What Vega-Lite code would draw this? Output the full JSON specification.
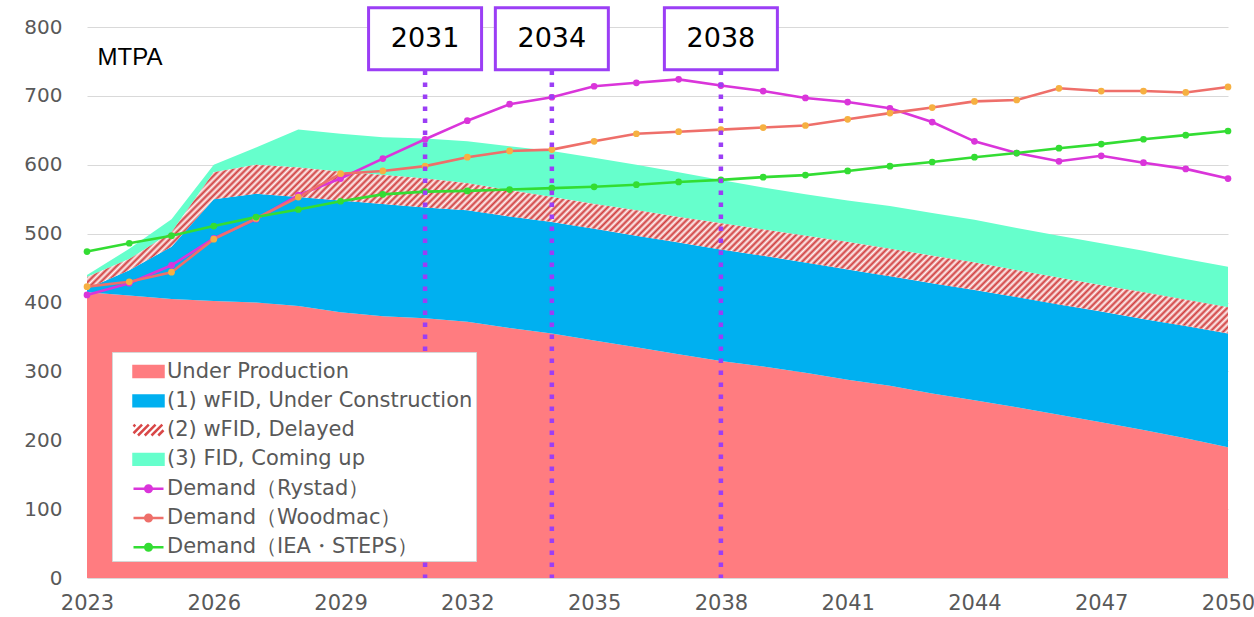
{
  "$schema": "https://vega.github.io/schema/vega-lite/v6.json",
  "width": 1141,
  "height": 551,
  "autosize": {"type": "none"},
  "padding": {"left": 87, "top": 27, "right": 26, "bottom": 39},
  "background": "white",
  "config": {"view": {"stroke": null}, "font": "DejaVu Sans"},
  "datasets": {
    "supply": [
      {"year": 2023, "UP": 415, "UC": 5, "DEL": 17, "FID": 3, "Rystad": 411, "Woodmac": 423, "IEA": 474},
      {"year": 2024, "UP": 410, "UC": 37, "DEL": 16, "FID": 15, "Rystad": 428, "Woodmac": 430, "IEA": 486},
      {"year": 2025, "UP": 405, "UC": 76, "DEL": 21, "FID": 19, "Rystad": 454, "Woodmac": 444, "IEA": 497},
      {"year": 2026, "UP": 402, "UC": 148, "DEL": 39, "FID": 11, "Rystad": 493, "Woodmac": 492, "IEA": 511},
      {"year": 2027, "UP": 400, "UC": 158, "DEL": 42, "FID": 25, "Rystad": 521, "Woodmac": 522, "IEA": 524},
      {"year": 2028, "UP": 395, "UC": 158, "DEL": 43, "FID": 55, "Rystad": 556, "Woodmac": 553, "IEA": 535},
      {"year": 2029, "UP": 386, "UC": 162, "DEL": 42, "FID": 55, "Rystad": 580, "Woodmac": 587, "IEA": 547},
      {"year": 2030, "UP": 380, "UC": 163, "DEL": 42, "FID": 55, "Rystad": 609, "Woodmac": 591, "IEA": 557},
      {"year": 2031, "UP": 377, "UC": 161, "DEL": 42, "FID": 58, "Rystad": 637, "Woodmac": 598, "IEA": 561},
      {"year": 2032, "UP": 372, "UC": 162, "DEL": 39, "FID": 61, "Rystad": 664, "Woodmac": 611, "IEA": 562},
      {"year": 2033, "UP": 363, "UC": 162, "DEL": 38, "FID": 64, "Rystad": 688, "Woodmac": 620, "IEA": 564},
      {"year": 2034, "UP": 355, "UC": 162, "DEL": 36, "FID": 67, "Rystad": 698, "Woodmac": 622, "IEA": 566},
      {"year": 2035, "UP": 345, "UC": 162, "DEL": 36, "FID": 67, "Rystad": 714, "Woodmac": 634, "IEA": 568},
      {"year": 2036, "UP": 335, "UC": 162, "DEL": 37, "FID": 66, "Rystad": 719, "Woodmac": 645, "IEA": 571},
      {"year": 2037, "UP": 325, "UC": 162, "DEL": 37, "FID": 65, "Rystad": 724, "Woodmac": 648, "IEA": 575},
      {"year": 2038, "UP": 315, "UC": 162, "DEL": 38, "FID": 63, "Rystad": 715, "Woodmac": 651, "IEA": 578},
      {"year": 2039, "UP": 307, "UC": 161, "DEL": 38, "FID": 61, "Rystad": 707, "Woodmac": 654, "IEA": 582},
      {"year": 2040, "UP": 298, "UC": 160, "DEL": 39, "FID": 60, "Rystad": 697, "Woodmac": 657, "IEA": 585},
      {"year": 2041, "UP": 288, "UC": 160, "DEL": 40, "FID": 60, "Rystad": 691, "Woodmac": 666, "IEA": 591},
      {"year": 2042, "UP": 279, "UC": 159, "DEL": 40, "FID": 62, "Rystad": 682, "Woodmac": 675, "IEA": 598},
      {"year": 2043, "UP": 268, "UC": 160, "DEL": 40, "FID": 62, "Rystad": 662, "Woodmac": 683, "IEA": 604},
      {"year": 2044, "UP": 258, "UC": 160, "DEL": 40, "FID": 62, "Rystad": 634, "Woodmac": 692, "IEA": 611},
      {"year": 2045, "UP": 248, "UC": 160, "DEL": 39, "FID": 61, "Rystad": 617, "Woodmac": 694, "IEA": 617},
      {"year": 2046, "UP": 237, "UC": 160, "DEL": 39, "FID": 61, "Rystad": 605, "Woodmac": 711, "IEA": 624},
      {"year": 2047, "UP": 226, "UC": 161, "DEL": 38, "FID": 61, "Rystad": 613, "Woodmac": 707, "IEA": 630},
      {"year": 2048, "UP": 215, "UC": 161, "DEL": 39, "FID": 60, "Rystad": 603, "Woodmac": 707, "IEA": 637},
      {"year": 2049, "UP": 203, "UC": 163, "DEL": 38, "FID": 59, "Rystad": 594, "Woodmac": 705, "IEA": 643},
      {"year": 2050, "UP": 190, "UC": 165, "DEL": 38, "FID": 59, "Rystad": 580, "Woodmac": 713, "IEA": 649}
    ],
    "marks": [{"year": 2031}, {"year": 2034}, {"year": 2038}]
  },
  "encoding": {
    "x": {
      "field": "year",
      "type": "quantitative",
      "scale": {"domain": [2023, 2050], "nice": false, "zero": false},
      "axis": {
        "values": [2023, 2026, 2029, 2032, 2035, 2038, 2041, 2044, 2047, 2050],
        "format": "d",
        "labelFlush": false,
        "labelOverlap": false,
        "grid": false,
        "domain": false,
        "ticks": false,
        "tickSize": 0,
        "labelPadding": 14,
        "labelFontSize": 21,
        "labelColor": "#595959",
        "labelFont": "DejaVu Sans",
        "title": null
      }
    }
  },
  "layer": [
    {
      "data": {"name": "supply"},
      "transform": [
        {"fold": ["UP", "UC", "DEL", "FID"], "as": ["series", "value"]},
        {"stack": "value", "groupby": ["year"], "as": ["v0", "v1"]},
        {"filter": "datum.series !== 'DEL'"}
      ],
      "mark": {"type": "area", "interpolate": "linear", "opacity": 1},
      "encoding": {
        "y": {
          "field": "v1",
          "type": "quantitative",
          "stack": null,
          "scale": {"domain": [0, 800], "nice": false, "zero": true},
          "axis": {
            "values": [0, 100, 200, 300, 400, 500, 600, 700, 800],
            "grid": true,
            "gridColor": "#D9D9D9",
            "gridWidth": 1.2,
            "domain": false,
            "ticks": false,
            "tickSize": 0,
            "labelPadding": 25,
            "labelFontSize": 20,
            "labelColor": "#595959",
            "labelFont": "DejaVu Sans",
            "title": "MTPA",
            "titleAngle": 0,
            "titleX": 10,
            "titleY": 30,
            "titleAlign": "left",
            "titleBaseline": "middle",
            "titleFont": "Liberation Sans",
            "titleFontSize": 24,
            "titleFontWeight": "normal",
            "titleColor": "#000000"
          }
        },
        "y2": {"field": "v0"},
        "color": {
          "field": "series",
          "type": "nominal",
          "scale": {
            "domain": ["UP", "UC", "DEL", "FID", "Rystad", "Woodmac", "IEA"],
            "range": ["#FF7C80", "#00B0F0", "#D94848", "#66FFCC", "#DA35DA", "#EE6F6A", "#33DD33"]
          },
          "legend": {
            "orient": "none", "legendX": 25, "legendY": 325, "title": null, "direction": "vertical",
            "fillColor": "white", "strokeColor": "#D6D6D6", "padding": 3,
            "labelFont": "DejaVu Sans", "labelFontSize": 21, "labelColor": "#595959", "labelLimit": 400,
            "labelExpr": "({'UP':'Under Production','UC':'(1) wFID, Under Construction','DEL':'(2) wFID, Delayed','FID':'(3) FID, Coming up','Rystad':'Demand（Rystad）','Woodmac':'Demand（Woodmac）','IEA':'Demand（IEA・STEPS）'})[datum.value]",
            "symbolType": "M-1,-0.36H1V0.36H-1Z",
            "symbolSize": 400, "symbolStrokeWidth": 0, "symbolOffset": 17, "labelOffset": 2, "rowPadding": 2.3, "zindex": 2,
            "encode": {
              "symbols": {
                "update": {
                  "shape": {"signal": "indexof(['Rystad','Woodmac','IEA'], datum.value) >= 0 ? 'M-1,0H1M0.22,0A0.22 0.22 0 1 1 -0.22,0A0.22 0.22 0 1 1 0.22,0' : datum.value === 'DEL' ? 'M-1,-0.24L-0.88,-0.36M-1,0.21L-0.43,-0.36M-0.7,0.36L0.02,-0.36M-0.25,0.36L0.47,-0.36M0.2,0.36L0.92,-0.36M0.65,0.36L1,0.01' : 'M-1,-0.36H1V0.36H-1Z'"},
                  "size": {"value": 900},
                  "fill": {"signal": "datum.value === 'Woodmac' ? '#F6B041' : datum.value === 'DEL' ? 'transparent' : scale('color', datum.value)"},
                  "stroke": {"signal": "indexof(['Rystad','Woodmac','IEA','DEL'], datum.value) >= 0 ? scale('color', datum.value) : 'transparent'"},
                  "strokeWidth": {"value": 2.5},
                  "opacity": {"value": 1}
                }
              }
            }
          }
        }
      }
    },
    {
      "data": {"name": "supply"},
      "transform": [
        {"fold": ["UP", "UC", "DEL", "FID"], "as": ["series", "value"]},
        {"stack": "value", "groupby": ["year"], "as": ["v0", "v1"]},
        {"filter": "datum.series === 'DEL'"}
      ],
      "mark": {
        "type": "area",
        "interpolate": "linear",
        "opacity": 1,
        "fill": {
          "gradient": "linear", "x1": 0, "y1": 0, "x2": 1.1233, "y2": 0.1661,
          "stops": [
            {"offset":0,"color":"#d03c3c"},{"offset":0.0025,"color":"#fff5f5"},{"offset":0.005,"color":"#d03c3c"},{"offset":0.0075,"color":"#fff5f5"},
            {"offset":0.01,"color":"#d03c3c"},{"offset":0.0125,"color":"#fff5f5"},{"offset":0.015,"color":"#d03c3c"},{"offset":0.0175,"color":"#fff5f5"},
            {"offset":0.02,"color":"#d03c3c"},{"offset":0.0225,"color":"#fff5f5"},{"offset":0.025,"color":"#d03c3c"},{"offset":0.0275,"color":"#fff5f5"},
            {"offset":0.03,"color":"#d03c3c"},{"offset":0.0325,"color":"#fff5f5"},{"offset":0.035,"color":"#d03c3c"},{"offset":0.0375,"color":"#fff5f5"},
            {"offset":0.04,"color":"#d03c3c"},{"offset":0.0425,"color":"#fff5f5"},{"offset":0.045,"color":"#d03c3c"},{"offset":0.0475,"color":"#fff5f5"},
            {"offset":0.05,"color":"#d03c3c"},{"offset":0.0525,"color":"#fff5f5"},{"offset":0.055,"color":"#d03c3c"},{"offset":0.0575,"color":"#fff5f5"},
            {"offset":0.06,"color":"#d03c3c"},{"offset":0.0625,"color":"#fff5f5"},{"offset":0.065,"color":"#d03c3c"},{"offset":0.0675,"color":"#fff5f5"},
            {"offset":0.07,"color":"#d03c3c"},{"offset":0.0725,"color":"#fff5f5"},{"offset":0.075,"color":"#d03c3c"},{"offset":0.0775,"color":"#fff5f5"},
            {"offset":0.08,"color":"#d03c3c"},{"offset":0.0825,"color":"#fff5f5"},{"offset":0.085,"color":"#d03c3c"},{"offset":0.0875,"color":"#fff5f5"},
            {"offset":0.09,"color":"#d03c3c"},{"offset":0.0925,"color":"#fff5f5"},{"offset":0.095,"color":"#d03c3c"},{"offset":0.0975,"color":"#fff5f5"},
            {"offset":0.1,"color":"#d03c3c"},{"offset":0.1025,"color":"#fff5f5"},{"offset":0.105,"color":"#d03c3c"},{"offset":0.1075,"color":"#fff5f5"},
            {"offset":0.11,"color":"#d03c3c"},{"offset":0.1125,"color":"#fff5f5"},{"offset":0.115,"color":"#d03c3c"},{"offset":0.1175,"color":"#fff5f5"},
            {"offset":0.12,"color":"#d03c3c"},{"offset":0.1225,"color":"#fff5f5"},{"offset":0.125,"color":"#d03c3c"},{"offset":0.1275,"color":"#fff5f5"},
            {"offset":0.13,"color":"#d03c3c"},{"offset":0.1325,"color":"#fff5f5"},{"offset":0.135,"color":"#d03c3c"},{"offset":0.1375,"color":"#fff5f5"},
            {"offset":0.14,"color":"#d03c3c"},{"offset":0.1425,"color":"#fff5f5"},{"offset":0.145,"color":"#d03c3c"},{"offset":0.1475,"color":"#fff5f5"},
            {"offset":0.15,"color":"#d03c3c"},{"offset":0.1525,"color":"#fff5f5"},{"offset":0.155,"color":"#d03c3c"},{"offset":0.1575,"color":"#fff5f5"},
            {"offset":0.16,"color":"#d03c3c"},{"offset":0.1625,"color":"#fff5f5"},{"offset":0.165,"color":"#d03c3c"},{"offset":0.1675,"color":"#fff5f5"},
            {"offset":0.17,"color":"#d03c3c"},{"offset":0.1725,"color":"#fff5f5"},{"offset":0.175,"color":"#d03c3c"},{"offset":0.1775,"color":"#fff5f5"},
            {"offset":0.18,"color":"#d03c3c"},{"offset":0.1825,"color":"#fff5f5"},{"offset":0.185,"color":"#d03c3c"},{"offset":0.1875,"color":"#fff5f5"},
            {"offset":0.19,"color":"#d03c3c"},{"offset":0.1925,"color":"#fff5f5"},{"offset":0.195,"color":"#d03c3c"},{"offset":0.1975,"color":"#fff5f5"},
            {"offset":0.2,"color":"#d03c3c"},{"offset":0.2025,"color":"#fff5f5"},{"offset":0.205,"color":"#d03c3c"},{"offset":0.2075,"color":"#fff5f5"},
            {"offset":0.21,"color":"#d03c3c"},{"offset":0.2125,"color":"#fff5f5"},{"offset":0.215,"color":"#d03c3c"},{"offset":0.2175,"color":"#fff5f5"},
            {"offset":0.22,"color":"#d03c3c"},{"offset":0.2225,"color":"#fff5f5"},{"offset":0.225,"color":"#d03c3c"},{"offset":0.2275,"color":"#fff5f5"},
            {"offset":0.23,"color":"#d03c3c"},{"offset":0.2325,"color":"#fff5f5"},{"offset":0.235,"color":"#d03c3c"},{"offset":0.2375,"color":"#fff5f5"},
            {"offset":0.24,"color":"#d03c3c"},{"offset":0.2425,"color":"#fff5f5"},{"offset":0.245,"color":"#d03c3c"},{"offset":0.2475,"color":"#fff5f5"},
            {"offset":0.25,"color":"#d03c3c"},{"offset":0.2525,"color":"#fff5f5"},{"offset":0.255,"color":"#d03c3c"},{"offset":0.2575,"color":"#fff5f5"},
            {"offset":0.26,"color":"#d03c3c"},{"offset":0.2625,"color":"#fff5f5"},{"offset":0.265,"color":"#d03c3c"},{"offset":0.2675,"color":"#fff5f5"},
            {"offset":0.27,"color":"#d03c3c"},{"offset":0.2725,"color":"#fff5f5"},{"offset":0.275,"color":"#d03c3c"},{"offset":0.2775,"color":"#fff5f5"},
            {"offset":0.28,"color":"#d03c3c"},{"offset":0.2825,"color":"#fff5f5"},{"offset":0.285,"color":"#d03c3c"},{"offset":0.2875,"color":"#fff5f5"},
            {"offset":0.29,"color":"#d03c3c"},{"offset":0.2925,"color":"#fff5f5"},{"offset":0.295,"color":"#d03c3c"},{"offset":0.2975,"color":"#fff5f5"},
            {"offset":0.3,"color":"#d03c3c"},{"offset":0.3025,"color":"#fff5f5"},{"offset":0.305,"color":"#d03c3c"},{"offset":0.3075,"color":"#fff5f5"},
            {"offset":0.31,"color":"#d03c3c"},{"offset":0.3125,"color":"#fff5f5"},{"offset":0.315,"color":"#d03c3c"},{"offset":0.3175,"color":"#fff5f5"},
            {"offset":0.32,"color":"#d03c3c"},{"offset":0.3225,"color":"#fff5f5"},{"offset":0.325,"color":"#d03c3c"},{"offset":0.3275,"color":"#fff5f5"},
            {"offset":0.33,"color":"#d03c3c"},{"offset":0.3325,"color":"#fff5f5"},{"offset":0.335,"color":"#d03c3c"},{"offset":0.3375,"color":"#fff5f5"},
            {"offset":0.34,"color":"#d03c3c"},{"offset":0.3425,"color":"#fff5f5"},{"offset":0.345,"color":"#d03c3c"},{"offset":0.3475,"color":"#fff5f5"},
            {"offset":0.35,"color":"#d03c3c"},{"offset":0.3525,"color":"#fff5f5"},{"offset":0.355,"color":"#d03c3c"},{"offset":0.3575,"color":"#fff5f5"},
            {"offset":0.36,"color":"#d03c3c"},{"offset":0.3625,"color":"#fff5f5"},{"offset":0.365,"color":"#d03c3c"},{"offset":0.3675,"color":"#fff5f5"},
            {"offset":0.37,"color":"#d03c3c"},{"offset":0.3725,"color":"#fff5f5"},{"offset":0.375,"color":"#d03c3c"},{"offset":0.3775,"color":"#fff5f5"},
            {"offset":0.38,"color":"#d03c3c"},{"offset":0.3825,"color":"#fff5f5"},{"offset":0.385,"color":"#d03c3c"},{"offset":0.3875,"color":"#fff5f5"},
            {"offset":0.39,"color":"#d03c3c"},{"offset":0.3925,"color":"#fff5f5"},{"offset":0.395,"color":"#d03c3c"},{"offset":0.3975,"color":"#fff5f5"},
            {"offset":0.4,"color":"#d03c3c"},{"offset":0.4025,"color":"#fff5f5"},{"offset":0.405,"color":"#d03c3c"},{"offset":0.4075,"color":"#fff5f5"},
            {"offset":0.41,"color":"#d03c3c"},{"offset":0.4125,"color":"#fff5f5"},{"offset":0.415,"color":"#d03c3c"},{"offset":0.4175,"color":"#fff5f5"},
            {"offset":0.42,"color":"#d03c3c"},{"offset":0.4225,"color":"#fff5f5"},{"offset":0.425,"color":"#d03c3c"},{"offset":0.4275,"color":"#fff5f5"},
            {"offset":0.43,"color":"#d03c3c"},{"offset":0.4325,"color":"#fff5f5"},{"offset":0.435,"color":"#d03c3c"},{"offset":0.4375,"color":"#fff5f5"},
            {"offset":0.44,"color":"#d03c3c"},{"offset":0.4425,"color":"#fff5f5"},{"offset":0.445,"color":"#d03c3c"},{"offset":0.4475,"color":"#fff5f5"},
            {"offset":0.45,"color":"#d03c3c"},{"offset":0.4525,"color":"#fff5f5"},{"offset":0.455,"color":"#d03c3c"},{"offset":0.4575,"color":"#fff5f5"},
            {"offset":0.46,"color":"#d03c3c"},{"offset":0.4625,"color":"#fff5f5"},{"offset":0.465,"color":"#d03c3c"},{"offset":0.4675,"color":"#fff5f5"},
            {"offset":0.47,"color":"#d03c3c"},{"offset":0.4725,"color":"#fff5f5"},{"offset":0.475,"color":"#d03c3c"},{"offset":0.4775,"color":"#fff5f5"},
            {"offset":0.48,"color":"#d03c3c"},{"offset":0.4825,"color":"#fff5f5"},{"offset":0.485,"color":"#d03c3c"},{"offset":0.4875,"color":"#fff5f5"},
            {"offset":0.49,"color":"#d03c3c"},{"offset":0.4925,"color":"#fff5f5"},{"offset":0.495,"color":"#d03c3c"},{"offset":0.4975,"color":"#fff5f5"},
            {"offset":0.5,"color":"#d03c3c"},{"offset":0.5025,"color":"#fff5f5"},{"offset":0.505,"color":"#d03c3c"},{"offset":0.5075,"color":"#fff5f5"},
            {"offset":0.51,"color":"#d03c3c"},{"offset":0.5125,"color":"#fff5f5"},{"offset":0.515,"color":"#d03c3c"},{"offset":0.5175,"color":"#fff5f5"},
            {"offset":0.52,"color":"#d03c3c"},{"offset":0.5225,"color":"#fff5f5"},{"offset":0.525,"color":"#d03c3c"},{"offset":0.5275,"color":"#fff5f5"},
            {"offset":0.53,"color":"#d03c3c"},{"offset":0.5325,"color":"#fff5f5"},{"offset":0.535,"color":"#d03c3c"},{"offset":0.5375,"color":"#fff5f5"},
            {"offset":0.54,"color":"#d03c3c"},{"offset":0.5425,"color":"#fff5f5"},{"offset":0.545,"color":"#d03c3c"},{"offset":0.5475,"color":"#fff5f5"},
            {"offset":0.55,"color":"#d03c3c"},{"offset":0.5525,"color":"#fff5f5"},{"offset":0.555,"color":"#d03c3c"},{"offset":0.5575,"color":"#fff5f5"},
            {"offset":0.56,"color":"#d03c3c"},{"offset":0.5625,"color":"#fff5f5"},{"offset":0.565,"color":"#d03c3c"},{"offset":0.5675,"color":"#fff5f5"},
            {"offset":0.57,"color":"#d03c3c"},{"offset":0.5725,"color":"#fff5f5"},{"offset":0.575,"color":"#d03c3c"},{"offset":0.5775,"color":"#fff5f5"},
            {"offset":0.58,"color":"#d03c3c"},{"offset":0.5825,"color":"#fff5f5"},{"offset":0.585,"color":"#d03c3c"},{"offset":0.5875,"color":"#fff5f5"},
            {"offset":0.59,"color":"#d03c3c"},{"offset":0.5925,"color":"#fff5f5"},{"offset":0.595,"color":"#d03c3c"},{"offset":0.5975,"color":"#fff5f5"},
            {"offset":0.6,"color":"#d03c3c"},{"offset":0.6025,"color":"#fff5f5"},{"offset":0.605,"color":"#d03c3c"},{"offset":0.6075,"color":"#fff5f5"},
            {"offset":0.61,"color":"#d03c3c"},{"offset":0.6125,"color":"#fff5f5"},{"offset":0.615,"color":"#d03c3c"},{"offset":0.6175,"color":"#fff5f5"},
            {"offset":0.62,"color":"#d03c3c"},{"offset":0.6225,"color":"#fff5f5"},{"offset":0.625,"color":"#d03c3c"},{"offset":0.6275,"color":"#fff5f5"},
            {"offset":0.63,"color":"#d03c3c"},{"offset":0.6325,"color":"#fff5f5"},{"offset":0.635,"color":"#d03c3c"},{"offset":0.6375,"color":"#fff5f5"},
            {"offset":0.64,"color":"#d03c3c"},{"offset":0.6425,"color":"#fff5f5"},{"offset":0.645,"color":"#d03c3c"},{"offset":0.6475,"color":"#fff5f5"},
            {"offset":0.65,"color":"#d03c3c"},{"offset":0.6525,"color":"#fff5f5"},{"offset":0.655,"color":"#d03c3c"},{"offset":0.6575,"color":"#fff5f5"},
            {"offset":0.66,"color":"#d03c3c"},{"offset":0.6625,"color":"#fff5f5"},{"offset":0.665,"color":"#d03c3c"},{"offset":0.6675,"color":"#fff5f5"},
            {"offset":0.67,"color":"#d03c3c"},{"offset":0.6725,"color":"#fff5f5"},{"offset":0.675,"color":"#d03c3c"},{"offset":0.6775,"color":"#fff5f5"},
            {"offset":0.68,"color":"#d03c3c"},{"offset":0.6825,"color":"#fff5f5"},{"offset":0.685,"color":"#d03c3c"},{"offset":0.6875,"color":"#fff5f5"},
            {"offset":0.69,"color":"#d03c3c"},{"offset":0.6925,"color":"#fff5f5"},{"offset":0.695,"color":"#d03c3c"},{"offset":0.6975,"color":"#fff5f5"},
            {"offset":0.7,"color":"#d03c3c"},{"offset":0.7025,"color":"#fff5f5"},{"offset":0.705,"color":"#d03c3c"},{"offset":0.7075,"color":"#fff5f5"},
            {"offset":0.71,"color":"#d03c3c"},{"offset":0.7125,"color":"#fff5f5"},{"offset":0.715,"color":"#d03c3c"},{"offset":0.7175,"color":"#fff5f5"},
            {"offset":0.72,"color":"#d03c3c"},{"offset":0.7225,"color":"#fff5f5"},{"offset":0.725,"color":"#d03c3c"},{"offset":0.7275,"color":"#fff5f5"},
            {"offset":0.73,"color":"#d03c3c"},{"offset":0.7325,"color":"#fff5f5"},{"offset":0.735,"color":"#d03c3c"},{"offset":0.7375,"color":"#fff5f5"},
            {"offset":0.74,"color":"#d03c3c"},{"offset":0.7425,"color":"#fff5f5"},{"offset":0.745,"color":"#d03c3c"},{"offset":0.7475,"color":"#fff5f5"},
            {"offset":0.75,"color":"#d03c3c"},{"offset":0.7525,"color":"#fff5f5"},{"offset":0.755,"color":"#d03c3c"},{"offset":0.7575,"color":"#fff5f5"},
            {"offset":0.76,"color":"#d03c3c"},{"offset":0.7625,"color":"#fff5f5"},{"offset":0.765,"color":"#d03c3c"},{"offset":0.7675,"color":"#fff5f5"},
            {"offset":0.77,"color":"#d03c3c"},{"offset":0.7725,"color":"#fff5f5"},{"offset":0.775,"color":"#d03c3c"},{"offset":0.7775,"color":"#fff5f5"},
            {"offset":0.78,"color":"#d03c3c"},{"offset":0.7825,"color":"#fff5f5"},{"offset":0.785,"color":"#d03c3c"},{"offset":0.7875,"color":"#fff5f5"},
            {"offset":0.79,"color":"#d03c3c"},{"offset":0.7925,"color":"#fff5f5"},{"offset":0.795,"color":"#d03c3c"},{"offset":0.7975,"color":"#fff5f5"},
            {"offset":0.8,"color":"#d03c3c"},{"offset":0.8025,"color":"#fff5f5"},{"offset":0.805,"color":"#d03c3c"},{"offset":0.8075,"color":"#fff5f5"},
            {"offset":0.81,"color":"#d03c3c"},{"offset":0.8125,"color":"#fff5f5"},{"offset":0.815,"color":"#d03c3c"},{"offset":0.8175,"color":"#fff5f5"},
            {"offset":0.82,"color":"#d03c3c"},{"offset":0.8225,"color":"#fff5f5"},{"offset":0.825,"color":"#d03c3c"},{"offset":0.8275,"color":"#fff5f5"},
            {"offset":0.83,"color":"#d03c3c"},{"offset":0.8325,"color":"#fff5f5"},{"offset":0.835,"color":"#d03c3c"},{"offset":0.8375,"color":"#fff5f5"},
            {"offset":0.84,"color":"#d03c3c"},{"offset":0.8425,"color":"#fff5f5"},{"offset":0.845,"color":"#d03c3c"},{"offset":0.8475,"color":"#fff5f5"},
            {"offset":0.85,"color":"#d03c3c"},{"offset":0.8525,"color":"#fff5f5"},{"offset":0.855,"color":"#d03c3c"},{"offset":0.8575,"color":"#fff5f5"},
            {"offset":0.86,"color":"#d03c3c"},{"offset":0.8625,"color":"#fff5f5"},{"offset":0.865,"color":"#d03c3c"},{"offset":0.8675,"color":"#fff5f5"},
            {"offset":0.87,"color":"#d03c3c"},{"offset":0.8725,"color":"#fff5f5"},{"offset":0.875,"color":"#d03c3c"},{"offset":0.8775,"color":"#fff5f5"},
            {"offset":0.88,"color":"#d03c3c"},{"offset":0.8825,"color":"#fff5f5"},{"offset":0.885,"color":"#d03c3c"},{"offset":0.8875,"color":"#fff5f5"},
            {"offset":0.89,"color":"#d03c3c"},{"offset":0.8925,"color":"#fff5f5"},{"offset":0.895,"color":"#d03c3c"},{"offset":0.8975,"color":"#fff5f5"},
            {"offset":0.9,"color":"#d03c3c"},{"offset":0.9025,"color":"#fff5f5"},{"offset":0.905,"color":"#d03c3c"},{"offset":0.9075,"color":"#fff5f5"},
            {"offset":0.91,"color":"#d03c3c"},{"offset":0.9125,"color":"#fff5f5"},{"offset":0.915,"color":"#d03c3c"},{"offset":0.9175,"color":"#fff5f5"},
            {"offset":0.92,"color":"#d03c3c"},{"offset":0.9225,"color":"#fff5f5"},{"offset":0.925,"color":"#d03c3c"},{"offset":0.9275,"color":"#fff5f5"},
            {"offset":0.93,"color":"#d03c3c"},{"offset":0.9325,"color":"#fff5f5"},{"offset":0.935,"color":"#d03c3c"},{"offset":0.9375,"color":"#fff5f5"},
            {"offset":0.94,"color":"#d03c3c"},{"offset":0.9425,"color":"#fff5f5"},{"offset":0.945,"color":"#d03c3c"},{"offset":0.9475,"color":"#fff5f5"},
            {"offset":0.95,"color":"#d03c3c"},{"offset":0.9525,"color":"#fff5f5"},{"offset":0.955,"color":"#d03c3c"},{"offset":0.9575,"color":"#fff5f5"},
            {"offset":0.96,"color":"#d03c3c"},{"offset":0.9625,"color":"#fff5f5"},{"offset":0.965,"color":"#d03c3c"},{"offset":0.9675,"color":"#fff5f5"},
            {"offset":0.97,"color":"#d03c3c"},{"offset":0.9725,"color":"#fff5f5"},{"offset":0.975,"color":"#d03c3c"},{"offset":0.9775,"color":"#fff5f5"},
            {"offset":0.98,"color":"#d03c3c"},{"offset":0.9825,"color":"#fff5f5"},{"offset":0.985,"color":"#d03c3c"},{"offset":0.9875,"color":"#fff5f5"},
            {"offset":0.99,"color":"#d03c3c"},{"offset":0.9925,"color":"#fff5f5"},{"offset":0.995,"color":"#d03c3c"},{"offset":0.9975,"color":"#fff5f5"},
            {"offset":1,"color":"#d03c3c"}
          ]
        }
      },
      "encoding": {
        "y": {"field": "v1", "type": "quantitative", "stack": null, "scale": {"domain": [0, 800], "nice": false, "zero": true}},
        "y2": {"field": "v0"}
      }
    },
    {
      "data": {"name": "supply"},
      "transform": [{"fold": ["Rystad", "Woodmac", "IEA"], "as": ["series", "value"]}],
      "mark": {"type": "line", "strokeWidth": 2.6, "interpolate": "linear"},
      "encoding": {
        "y": {"field": "value", "type": "quantitative", "scale": {"domain": [0, 800], "nice": false, "zero": true}},
        "color": {
          "field": "series",
          "type": "nominal",
          "scale": {
            "domain": ["UP", "UC", "DEL", "FID", "Rystad", "Woodmac", "IEA"],
            "range": ["#FF7C80", "#00B0F0", "#D94848", "#66FFCC", "#DA35DA", "#EE6F6A", "#33DD33"]
          },
          "legend": {
            "orient": "none", "legendX": 25, "legendY": 325, "title": null, "direction": "vertical",
            "fillColor": "white", "strokeColor": "#D6D6D6", "padding": 3,
            "labelFont": "DejaVu Sans", "labelFontSize": 21, "labelColor": "#595959", "labelLimit": 400,
            "labelExpr": "({'UP':'Under Production','UC':'(1) wFID, Under Construction','DEL':'(2) wFID, Delayed','FID':'(3) FID, Coming up','Rystad':'Demand（Rystad）','Woodmac':'Demand（Woodmac）','IEA':'Demand（IEA・STEPS）'})[datum.value]",
            "symbolType": "M-1,-0.36H1V0.36H-1Z",
            "symbolSize": 400, "symbolStrokeWidth": 0, "symbolOffset": 17, "labelOffset": 2, "rowPadding": 2.3, "zindex": 2,
            "encode": {
              "symbols": {
                "update": {
                  "shape": {"signal": "indexof(['Rystad','Woodmac','IEA'], datum.value) >= 0 ? 'M-1,0H1M0.22,0A0.22 0.22 0 1 1 -0.22,0A0.22 0.22 0 1 1 0.22,0' : datum.value === 'DEL' ? 'M-1,-0.24L-0.88,-0.36M-1,0.21L-0.43,-0.36M-0.7,0.36L0.02,-0.36M-0.25,0.36L0.47,-0.36M0.2,0.36L0.92,-0.36M0.65,0.36L1,0.01' : 'M-1,-0.36H1V0.36H-1Z'"},
                  "size": {"value": 900},
                  "fill": {"signal": "datum.value === 'Woodmac' ? '#F6B041' : datum.value === 'DEL' ? 'transparent' : scale('color', datum.value)"},
                  "stroke": {"signal": "indexof(['Rystad','Woodmac','IEA','DEL'], datum.value) >= 0 ? scale('color', datum.value) : 'transparent'"},
                  "strokeWidth": {"value": 2.5},
                  "opacity": {"value": 1}
                }
              }
            }
          }
        }
      }
    },
    {
      "data": {"name": "supply"},
      "transform": [{"fold": ["Rystad", "Woodmac", "IEA"], "as": ["series", "value"]}],
      "mark": {"type": "point", "shape": "circle", "filled": true, "size": 45, "opacity": 1},
      "encoding": {
        "y": {"field": "value", "type": "quantitative", "scale": {"domain": [0, 800], "nice": false, "zero": true}},
        "color": {
          "condition": {"test": "datum.series === 'Woodmac'", "value": "#F6B041"},
          "field": "series",
          "type": "nominal",
          "scale": {
            "domain": ["UP", "UC", "DEL", "FID", "Rystad", "Woodmac", "IEA"],
            "range": ["#FF7C80", "#00B0F0", "#D94848", "#66FFCC", "#DA35DA", "#EE6F6A", "#33DD33"]
          },
          "legend": {
            "orient": "none", "legendX": 25, "legendY": 325, "title": null, "direction": "vertical",
            "fillColor": "white", "strokeColor": "#D6D6D6", "padding": 3,
            "labelFont": "DejaVu Sans", "labelFontSize": 21, "labelColor": "#595959", "labelLimit": 400,
            "labelExpr": "({'UP':'Under Production','UC':'(1) wFID, Under Construction','DEL':'(2) wFID, Delayed','FID':'(3) FID, Coming up','Rystad':'Demand（Rystad）','Woodmac':'Demand（Woodmac）','IEA':'Demand（IEA・STEPS）'})[datum.value]",
            "symbolType": "M-1,-0.36H1V0.36H-1Z",
            "symbolSize": 400, "symbolStrokeWidth": 0, "symbolOffset": 17, "labelOffset": 2, "rowPadding": 2.3, "zindex": 2,
            "encode": {
              "symbols": {
                "update": {
                  "shape": {"signal": "indexof(['Rystad','Woodmac','IEA'], datum.value) >= 0 ? 'M-1,0H1M0.22,0A0.22 0.22 0 1 1 -0.22,0A0.22 0.22 0 1 1 0.22,0' : datum.value === 'DEL' ? 'M-1,-0.24L-0.88,-0.36M-1,0.21L-0.43,-0.36M-0.7,0.36L0.02,-0.36M-0.25,0.36L0.47,-0.36M0.2,0.36L0.92,-0.36M0.65,0.36L1,0.01' : 'M-1,-0.36H1V0.36H-1Z'"},
                  "size": {"value": 900},
                  "fill": {"signal": "datum.value === 'Woodmac' ? '#F6B041' : datum.value === 'DEL' ? 'transparent' : scale('color', datum.value)"},
                  "stroke": {"signal": "indexof(['Rystad','Woodmac','IEA','DEL'], datum.value) >= 0 ? scale('color', datum.value) : 'transparent'"},
                  "strokeWidth": {"value": 2.5},
                  "opacity": {"value": 1}
                }
              }
            }
          }
        }
      }
    },
    {
      "data": {"name": "marks"},
      "mark": {"type": "rule", "color": "#9B3EF5", "strokeWidth": 4.5, "strokeDash": [4.5, 7.5], "strokeCap": "butt"},
      "encoding": {
        "y": {"datum": 737},
        "y2": {"datum": 0}
      }
    },
    {
      "data": {"name": "marks"},
      "mark": {"type": "point", "shape": "M-1,-0.55H1V0.55H-1Z", "size": 12769, "filled": true, "fill": "white", "stroke": "#9B3EF5", "strokeWidth": 3, "opacity": 1, "fillOpacity": 1, "strokeOpacity": 1},
      "encoding": {
        "y": {"datum": 783}
      }
    },
    {
      "data": {"name": "marks"},
      "mark": {"type": "text", "font": "DejaVu Sans", "fontSize": 27, "color": "#000000", "align": "center", "baseline": "middle"},
      "encoding": {
        "y": {"datum": 783},
        "text": {"field": "year", "type": "quantitative", "format": "d"}
      }
    }
  ]
}
